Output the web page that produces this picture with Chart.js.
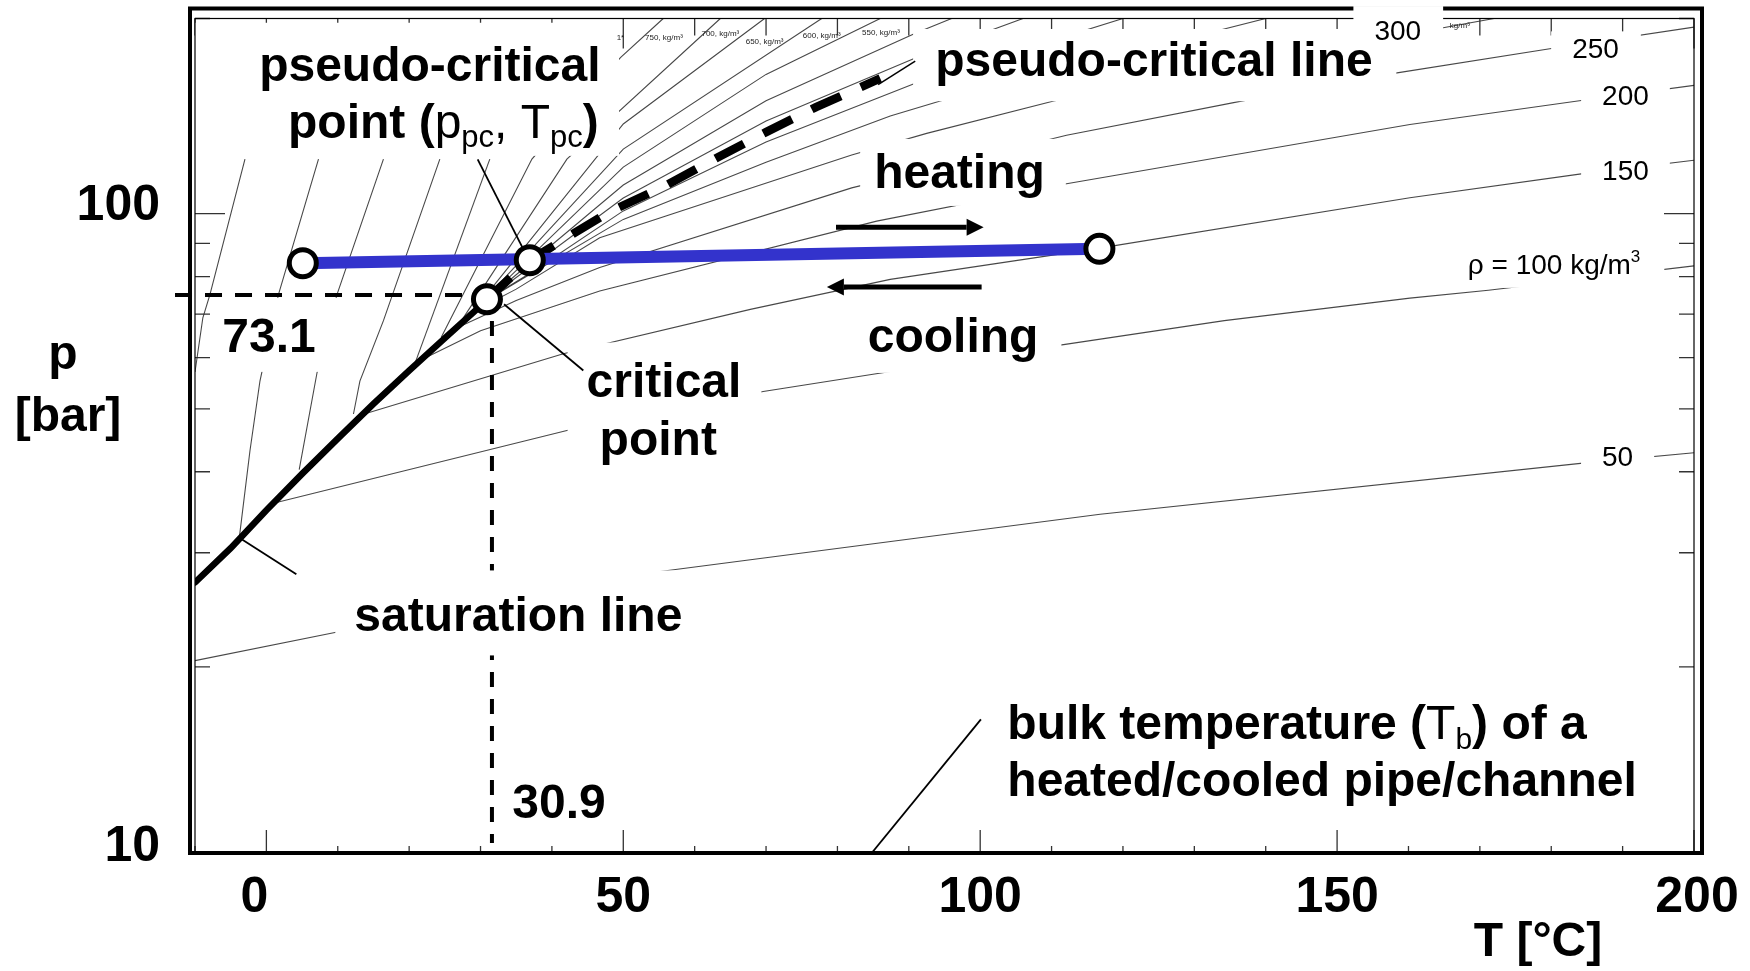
<!DOCTYPE html>
<html lang="en">
<head>
<meta charset="UTF-8">
<meta name="viewport" content="width=device-width, initial-scale=1.0">
<title>CO2 p-T diagram</title>
<script src="https://cdn.jsdelivr.net/npm/chart.js"></script>
<style>
  html, body { margin: 0; padding: 0; background: #ffffff; }
  canvas { display: block; }
</style>
</head>
<body>
<canvas id="diagram" width="1750" height="971"></canvas>
<script>
// temperatures in °C, pressures in bar
const xTicks = [0, 50, 100, 150, 200];
const xTickShift = [-12, 0, 0, 0, 3];
const xMinorTicks = [-10, 10, 20, 30, 40, 60, 70, 80, 90, 110, 120, 130, 140, 160, 170, 180, 190];
const yTicks = [10, 100];
const yMinorTicks = [20, 30, 40, 50, 60, 70, 80, 90, 200];

// saturation line up to the critical point
const satT = [-10, -5, 0, 5, 10, 15, 20, 25, 30, 30.9];
const satP = [27.0, 30.5, 34.9, 39.7, 45.0, 50.9, 57.3, 64.3, 72.1, 73.8];

// pseudo-critical line
const pcT = [30.9, 36.9, 48, 56.1, 63, 70, 77, 86];
const pcP = [73.8, 84.8, 100.6, 110.7, 121.8, 133.6, 146, 161.7];

// bulk temperature path (blue) and the marked points
const pathT = [5.1, 116.7];
const pathP = [83.9, 88.3];
const markT = [5.1, 36.9, 116.7, 30.9];
const markP = [83.9, 84.8, 88.3, 73.8];

// guides of the critical point
const critGuideH = [[-12.8, 74.9], [28.6, 74.9]];
const critGuideV = [[31.6, 68.3], [31.6, 10.7]];

// heating / cooling arrows
const heatArrow = [[79.8, 95.3], [98.1, 95.3]];
const coolArrow = [[100.2, 77.1], [80.9, 77.1]];

// pointer lines of the notes
const pcPointer = [[29.6, 121.3], [35.9, 88.6]];
const critPointer = [[33.3, 72.5], [44.4, 57.3]];
const satPointer = [[-3.9, 31.7], [4.2, 27.8]];
const bulkPointer = [[100.1, 16.6], [84.8, 10.33]];
const pcLinePointer = [[85.7, 158.2], [90.9, 171.9]];

// isochores [T, p], density in kg/m3
const rho50 = [[-10, 20.45], [9.6, 22.6], [54.9, 28.05], [116.8, 34.4], [184.1, 41.2], [200, 42.8]];
const rho100 = [[0.7, 35.7], [42.1, 46.3], [69.6, 53.2], [86.1, 56.8], [111.2, 62.7], [134.2, 68.4], [160.2, 74.1], [171.2, 76.2], [200, 83.1]];
const rho150 = [[12.9, 48.8], [41.6, 60.8], [67.8, 71.2], [87.4, 79.2], [116.7, 88.5], [160.2, 105.8], [184.2, 115.2], [200, 120.9]];
const rho200 = [[21.0, 59.0], [30, 66], [46.7, 76], [85.5, 97.4], [112.1, 111.2], [160.2, 137.3], [184.2, 149.5], [200, 157.7]];
const rho250 = [[26.5, 66.5], [35, 73.5], [46.7, 82.6], [82, 109.6], [112.1, 132.1], [136.4, 149], [158.4, 164.9], [179.8, 179.6], [200, 194]];
const rho300 = [[28.8, 70.5], [35, 76.5], [46.7, 91.8], [82, 123.2], [92.5, 133], [110.3, 149.2], [158.5, 188], [172, 200]];
const rho350 = [[30.2, 72.8], [36, 79.5], [50, 98], [70, 120], [87.4, 141.5], [94.4, 149.2], [140, 200]];
const rho400 = [[30.7, 73.5], [37, 81], [50, 101], [70, 129], [91, 159], [120, 200]];
const rho450 = [[30.9, 73.8], [50, 105.7], [70, 139], [91, 174], [106, 200]];
const rho500 = [[30.9, 73.8], [50, 110.7], [70, 149.3], [91, 190], [96, 200]];
const rho550 = [[30.6, 73.4], [50, 118], [70, 164], [86, 200]];
const rho600 = [[30.1, 72.7], [50, 125.8], [77.8, 200]];
const rho650 = [[29.1, 71.0], [50, 137.5], [69.8, 200]];
const rho700 = [[27.0, 67.5], [42.1, 121.4], [63.6, 200]];
const rho750 = [[24.5, 64.5], [37.2, 121.4], [49.6, 174], [55.6, 200]];
const rho800 = [[20.7, 58.3], [31.3, 121.4]];
const rho850 = [[12.2, 49.1], [13.1, 55.2], [16.4, 68.4], [24.3, 121.4]];
const rho900 = [[4.6, 40.3], [7.1, 56.9], [9.9, 75.1], [16.4, 121.4]];
const rho950 = [[-3.8, 31.6], [-2.3, 43.1], [-0.9, 55.2], [1.7, 75.1], [7.3, 121.4]];
const rho1000 = [[-10, 57], [-8.9, 69.1], [-7.9, 75.1], [-3.0, 121.4]];

const isochores = [rho50, rho100, rho150, rho200, rho250, rho300, rho350, rho400, rho450, rho500,
    rho550, rho600, rho650, rho700, rho750, rho800, rho850, rho900, rho950, rho1000];

// ---- text notes (position in T / p) ----
const FONT = '"Liberation Sans", Arial, sans-serif';
const B = t => ({ t: t, w: 'bold', s: 48 });
const N = t => ({ t: t, w: 'normal', s: 48 });
const S = t => ({ t: t, w: 'normal', s: 31, dy: 14 });
const R = t => ({ t: t, w: 'normal', s: 28 });

const notes = [
    { at: [[55.7, 55.3], [54.9, 45.0]], runs: [[B('critical')], [B('point')]], pad: [19, 20, 14, 1] },
    { at: [[35.3, 24.1]], runs: [[B('saturation line')]], pad: [19, 8, 20, 17] },
    { at: [[0.36, 64.8]], runs: [[B('73.1')]], pad: [10, 24, 14, 12] },
    { at: [[41, 12.4]], runs: [[B('30.9')]], pad: [8, 8, 6, 6] },
    { at: [[97.1, 116]], runs: [[B('heating')]], pad: [14, 21, 9, 10] },
    { at: [[96.2, 64.8]], runs: [[B('cooling')]], pad: [8, 23, 3, 13] },
    { at: [[22.9, 169.7], [24.8, 138.7]], runs: [[B('pseudo-critical')],
        [B('point ('), N('p'), S('pc'), N(', T'), S('pc'), B(')')]], box: [-10, 197, 49.4, 122.8] },
    { at: [[93.7, 172.5]], align: 'left', runs: [[B('pseudo-critical line')]], box: [90.6, 192.7, 158.3, 149.1] },
    { at: [[186.2, 178.6]], runs: [[R('250')]], pad: [21, 22, 5, 5] },
    { at: [[190.4, 151.3]], runs: [[R('200')]], pad: [21, 21, 6, 6] },
    { at: [[190.4, 115.7]], runs: [[R('150')]], pad: [21, 21, 6, 6] },
    { at: [[180.4, 83.1]], runs: [[R('ρ = 100 kg/m'), { t: '3', w: 'normal', s: 17, dy: -9 }]], pad: [15, 24, 6, 8] },
    { at: [[189.3, 41.9]], runs: [[R('50')]], pad: [21, 21, 6, 6] },
    { at: [[103.8, 16.4], [103.8, 13.4]], align: 'left', nobox: true,
        runs: [[B('bulk temperature ('), N('T'), { t: 'b', w: 'normal', s: 30, dy: 15 }, B(') of a')],
               [B('heated/cooled pipe/channel')]] }
];
const label300 = { at: [[158.5, 190.6]], runs: [[R('300')]], pad: [21, 22, 12, 0] };

// tiny density labels of the original chart
const topNoteText = ['1*', '750, kg/m³', '700, kg/m³', '650, kg/m³', '600, kg/m³', '550, kg/m³', 'kg/m³'];
const topNoteT = [49.6, 55.7, 63.6, 69.8, 77.8, 86.1, 167.2];
const topNoteP = [187, 187, 189.5, 184, 187.8, 189.8, 194.6];

function pts(list) {
    return list.map(function (p) { return { x: p[0], y: p[1] }; });
}

function line(data, color, width, order, extra) {
    return Object.assign({
        data: data, showLine: true, pointRadius: 0, borderColor: color,
        borderWidth: width, fill: false, order: order
    }, extra || {});
}

const datasets = [];
isochores.forEach(function (iso) {
    datasets.push(line(pts(iso), 'rgba(40,40,40,0.85)', 1.1, 20));
});
datasets.push(line(pts(critGuideH), '#000', 4, 16, { borderDash: [17, 13], clip: false }));
datasets.push(line(pts(critGuideV), '#000', 4, 15, { borderDash: [15, 12], label: 'vdash' }));
datasets.push(line(pcT.map((t, i) => ({ x: t, y: pcP[i] })), '#000', 8.5, 12, { borderDash: [32, 22] }));
datasets.push(line(pts(pcLinePointer), '#000', 1.5, 11));
datasets.push(line(pts(pcPointer), '#000', 1.8, 11));
datasets.push(line(pts(critPointer), '#000', 1.8, 11));
datasets.push(line(pts(satPointer), '#000', 1.8, 11));
datasets.push(line(pts(bulkPointer), '#000', 1.8, 11));
datasets.push(line(pts(heatArrow), '#000', 5, 10, { arrowHead: true }));
datasets.push(line(pts(coolArrow), '#000', 5, 10, { arrowHead: true }));
datasets.push(line(satT.map((t, i) => ({ x: t, y: satP[i] })), '#000', 6.5, 8, { borderCapStyle: 'round' }));
datasets.push(line(pathT.map((t, i) => ({ x: t, y: pathP[i] })), '#3333cc', 12, 6));
datasets.push({
    data: markT.map((t, i) => ({ x: t, y: markP[i] })), showLine: false,
    pointRadius: 13.5, pointBorderWidth: 5, pointBackgroundColor: '#ffffff',
    pointBorderColor: '#000000', order: 1
});

// ---- drawing helpers ----
function fontOf(r) { return r.w + ' ' + r.s + 'px ' + FONT; }

function layoutNote(ctx, chart, n) {
    const xs = chart.scales.x, ys = chart.scales.y;
    const rows = n.runs.map(function (runs, i) {
        let w = 0;
        runs.forEach(function (r) { ctx.font = fontOf(r); r._w = ctx.measureText(r.t).width; w += r._w; });
        const x = xs.getPixelForValue(n.at[i][0]);
        const y = ys.getPixelForValue(n.at[i][1]);
        return { runs: runs, left: n.align === 'left' ? x : x - w / 2, y: y, w: w,
            s: Math.max.apply(null, runs.map(r => r.s)) };
    });
    let box = null;
    if (n.box) {
        const x1 = xs.getPixelForValue(n.box[0]), y1 = ys.getPixelForValue(n.box[1]);
        const x2 = xs.getPixelForValue(n.box[2]), y2 = ys.getPixelForValue(n.box[3]);
        box = [x1, y1, x2 - x1, y2 - y1];
    } else if (!n.nobox) {
        const l = Math.min.apply(null, rows.map(r => r.left)) - n.pad[0];
        const r = Math.max.apply(null, rows.map(r => r.left + r.w)) + n.pad[1];
        const first = rows[0], last = rows[rows.length - 1];
        const t = first.y - first.s / 2 - n.pad[2];
        const b = last.y + last.s / 2 + n.pad[3];
        box = [l, t, r - l, b - t];
    }
    return { rows: rows, box: box };
}

function drawNoteBox(ctx, g) {
    if (!g.box) return;
    ctx.fillStyle = '#ffffff';
    ctx.fillRect(g.box[0], g.box[1], g.box[2], g.box[3]);
}

function drawNoteText(ctx, g) {
    ctx.fillStyle = '#000';
    ctx.textAlign = 'left';
    ctx.textBaseline = 'middle';
    g.rows.forEach(function (row) {
        let cx = row.left;
        // large text sits a little lower than the em-box middle
        const lift = row.s >= 40 ? 3 : 0;
        row.runs.forEach(function (r) {
            ctx.font = fontOf(r);
            ctx.fillText(r.t, cx, row.y + lift + (r.dy || 0));
            cx += r._w;
        });
    });
}

const decor = {
    id: 'decor',
    beforeDraw: function (chart) {
        const ctx = chart.ctx;
        ctx.save();
        ctx.fillStyle = '#ffffff';
        ctx.fillRect(0, 0, chart.width, chart.height);
        ctx.restore();
    },
    beforeDatasetsDraw: function (chart) {
        // inward tick marks
        const ctx = chart.ctx, a = chart.chartArea, xs = chart.scales.x, ys = chart.scales.y;
        ctx.save();
        ctx.strokeStyle = '#333';
        ctx.lineWidth = 1.3;
        ctx.beginPath();
        xTicks.concat(xMinorTicks).forEach(function (t) {
            const x = xs.getPixelForValue(t);
            const major = xTicks.indexOf(t) >= 0;
            ctx.moveTo(x, a.bottom); ctx.lineTo(x, a.bottom - (major ? 23 : 7));
            ctx.moveTo(x, a.top); ctx.lineTo(x, a.top + (major ? 30 : 17));
        });
        yTicks.concat(yMinorTicks).forEach(function (p) {
            const y = ys.getPixelForValue(p);
            if (y > a.bottom) return;
            const len = yTicks.indexOf(p) >= 0 ? 30 : 15;
            ctx.moveTo(a.left, y); ctx.lineTo(a.left + len, y);
            ctx.moveTo(a.right, y); ctx.lineTo(a.right - len, y);
        });
        ctx.stroke();
        ctx.restore();
    },
    afterDatasetDraw: function (chart, args) {
        // white note boxes go over the isochores and the guides, under the rest
        if (chart.data.datasets[args.index].label !== 'vdash') return;
        const ctx = chart.ctx;
        ctx.save();
        const geo = notes.map(n => layoutNote(ctx, chart, n));
        geo.forEach(g => drawNoteBox(ctx, g));
        geo.forEach(g => drawNoteText(ctx, g));
        ctx.fillStyle = '#222';
        ctx.font = '8px ' + FONT;
        ctx.textAlign = 'center';
        ctx.textBaseline = 'middle';
        topNoteText.forEach(function (t, i) {
            ctx.fillText(t, chart.scales.x.getPixelForValue(topNoteT[i]), chart.scales.y.getPixelForValue(topNoteP[i]));
        });
        ctx.restore();
    },
    afterDatasetsDraw: function (chart) {
        // arrow heads
        const ctx = chart.ctx;
        ctx.save();
        ctx.fillStyle = '#000';
        chart.data.datasets.forEach(function (ds, i) {
            if (!ds.arrowHead) return;
            const el = chart.getDatasetMeta(i).data;
            const p0 = el[el.length - 2], p1 = el[el.length - 1];
            const ang = Math.atan2(p1.y - p0.y, p1.x - p0.x);
            const len = 17, half = 8.5;
            ctx.beginPath();
            ctx.moveTo(p1.x + Math.cos(ang) * len, p1.y + Math.sin(ang) * len);
            ctx.lineTo(p1.x - Math.sin(ang) * half, p1.y + Math.cos(ang) * half);
            ctx.lineTo(p1.x + Math.sin(ang) * half, p1.y - Math.cos(ang) * half);
            ctx.closePath();
            ctx.fill();
        });
        ctx.restore();
    },
    afterDraw: function (chart) {
        const ctx = chart.ctx, a = chart.chartArea, xs = chart.scales.x, ys = chart.scales.y;
        ctx.save();
        // frame: thin inner box and thick outer box
        ctx.strokeStyle = '#000';
        ctx.lineWidth = 1.2;
        ctx.strokeRect(a.left, a.top, a.right - a.left, a.bottom - a.top);
        ctx.lineWidth = 4;
        ctx.strokeRect(a.left - 5, a.top - 10, a.right - a.left + 13, a.bottom - a.top + 10);

        // "300" label sits on top of the frame
        const g = layoutNote(ctx, chart, label300);
        drawNoteBox(ctx, g);
        drawNoteText(ctx, g);

        // tick labels
        ctx.fillStyle = '#000';
        ctx.font = 'bold 50px ' + FONT;
        ctx.textBaseline = 'middle';
        ctx.textAlign = 'center';
        xTicks.forEach(function (t, i) {
            ctx.fillText(String(t), xs.getPixelForValue(t) + xTickShift[i], a.bottom + 45);
        });
        ctx.textAlign = 'right';
        yTicks.forEach(function (p) {
            ctx.fillText(String(p), a.left - 35, ys.getPixelForValue(p) - (p === 10 ? 15 : 7));
        });

        // axis titles
        ctx.font = 'bold 48px ' + FONT;
        ctx.textAlign = 'center';
        ctx.textBaseline = 'alphabetic';
        ctx.fillText('p', a.left - 132, a.top + 350);
        ctx.fillText('[bar]', a.left - 127, a.top + 412);
        ctx.textBaseline = 'middle';
        ctx.fillText('T [°C]', a.right - 156, a.bottom + 90);
        ctx.restore();
    }
};

new Chart(document.getElementById('diagram'), {
    type: 'scatter',
    data: { datasets: datasets },
    options: {
        responsive: false,
        animation: false,
        devicePixelRatio: 1,
        layout: { padding: { left: 195, right: 56, top: 17, bottom: 118 } },
        plugins: { legend: { display: false }, tooltip: { enabled: false } },
        elements: { line: { tension: 0 } },
        scales: {
            x: { type: 'linear', min: -10, max: 200, display: false },
            y: { type: 'logarithmic', min: 10.33, max: 200, display: false }
        }
    },
    plugins: [decor]
});
</script>
</body>
</html>
